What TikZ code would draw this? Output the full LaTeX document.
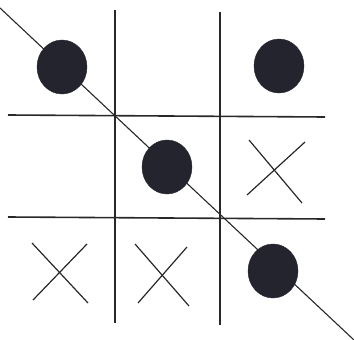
\documentclass[tikz,border=0pt]{standalone}
\usepackage{tikz}
\definecolor{inkgray}{RGB}{40, 40, 40}
\definecolor{stonefill}{RGB}{36, 36, 46}

\begin{document}
\begin{tikzpicture}[
    x=1pt, y=-1pt,
    gridline/.style={draw=inkgray, line width=1.6pt},
    crossline/.style={draw=inkgray, line width=1.2pt},
    winline/.style={draw=inkgray, line width=1.1pt},
    stone/.style={fill=stonefill, draw=stonefill}
]
    \useasboundingbox (0,0) rectangle (354,340);

    % board
    \draw[gridline] (115,10) -- (115,323);
    \draw[gridline] (220,12) -- (220,325);
    \draw[gridline] (8,115) -- (325,117);
    \draw[gridline] (8,217) -- (325,219);

    % three in a row
    \draw[winline] (0,8) -- (354,340);

    % noughts
    \foreach \cx/\cy in {62/67, 279/66, 167/167, 273/271}
        \fill[stone] (\cx,\cy) ellipse (25 and 27);

    % crosses
    \draw[crossline] (249,140) -- (302,203);
    \draw[crossline] (305,142) -- (247,195);
    \draw[crossline] (32,243) -- (88,303);
    \draw[crossline] (87,244) -- (33,300);
    \draw[crossline] (135,244) -- (189,306);
    \draw[crossline] (187,247) -- (138,303);
\end{tikzpicture}
\end{document}
